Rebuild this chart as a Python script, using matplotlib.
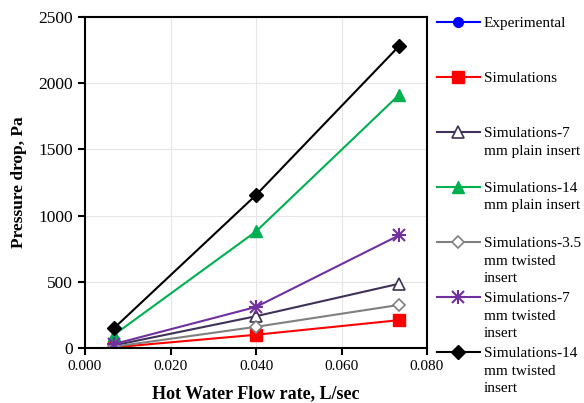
import numpy as np
import matplotlib
matplotlib.use("Agg")
import matplotlib.pyplot as plt
from matplotlib.lines import Line2D

plt.rcParams.update({"font.family": "Liberation Serif", "font.size": 11})

flow = [0.0068, 0.0400, 0.0734]
exp_flow = [0.0068]
exp_dp = [12]
sim = [5, 100, 210]
sim_7_plain = [20, 240, 485]
sim_14_plain = [100, 880, 1910]
sim_35_twist = [10, 160, 325]
sim_7_twist = [30, 310, 850]
sim_14_twist = [150, 1155, 2278]

labels = ["Experimental", "Simulations", "Simulations-7\nmm plain insert",
          "Simulations-14\nmm plain insert", "Simulations-3.5\nmm twisted\ninsert",
          "Simulations-7\nmm twisted\ninsert", "Simulations-14\nmm twisted\ninsert"]

W, H = 584, 403
fig = plt.figure(figsize=(W / 100, H / 100), dpi=100)
ax = fig.add_axes([85 / W, 1 - 348 / H, 342 / W, 331 / H])

series = [
    (exp_flow, exp_dp, dict(color="#0000ff", marker="o", ms=7)),
    (flow, sim, dict(color="#ff0000", marker="s", ms=8.5)),
    (flow, sim_7_plain, dict(color="#3f3158", marker="^", ms=8, mfc="white", mew=1.2)),
    (flow, sim_14_plain, dict(color="#00b050", marker="^", ms=8)),
    (flow, sim_35_twist, dict(color="#808080", marker="D", ms=6, mfc="white", mew=1.2)),
    (flow, sim_7_twist, dict(color="#7030a0", marker="x", ms=8, mew=1.5)),
    (flow, sim_14_twist, dict(color="#000000", marker="D", ms=7)),
]
for xs, ys, st in series:
    ax.plot(xs, ys, lw=1.5, **st)
# asterisk-like marker for 7 mm twisted: overlay a plus
ax.plot(flow, sim_7_twist, ls="none", marker="+", ms=10, mew=1.5, color="#7030a0")

ax.set_xlim(0, 0.08)
ax.set_ylim(0, 2500)
xt = np.arange(0, 0.081, 0.02)
ax.set_xticks(xt)
ax.set_xticklabels([f"{v:.3f}" for v in xt])
ax.set_yticks(range(0, 2501, 500))
ax.grid(color="#e6e6e6", lw=0.8)
ax.set_axisbelow(True)
for s in ax.spines.values():
    s.set_linewidth(1.5)
ax.tick_params(direction="out", length=5, width=1.5)
ax.tick_params(axis="x", labelsize=11)
ax.tick_params(axis="y", labelsize=12.5)
ax.set_xlabel("Hot Water Flow rate, L/sec", fontweight="bold", fontsize=13, labelpad=9)
ax.set_ylabel("Pressure drop, Pa", fontweight="bold", fontsize=12.5, labelpad=8)

# legend drawn by hand so each handle lines up with the first text line
LS = 1.43
line_px = 17.5
for i, ((xs, ys, st), lab) in enumerate(zip(series, labels)):
    yp = 22 + i * 55
    y = 1 - yp / H
    fig.add_artist(Line2D([437 / W, 480 / W], [y, y], lw=1.5, transform=fig.transFigure,
                          **{k: v for k, v in st.items() if k not in ("marker",)}))
    fig.add_artist(Line2D([458 / W], [y], ls="none", transform=fig.transFigure, **st))
    if i == 5:
        fig.add_artist(Line2D([458 / W], [y], ls="none", marker="+", ms=10, mew=1.5,
                              color="#7030a0", transform=fig.transFigure))
    nl = lab.count("\n")
    fig.text(484 / W, 1 - (yp + 5 + nl * line_px) / H, lab, fontsize=11,
             va="baseline", ha="left", linespacing=LS)

fig.savefig("out.png", dpi=100)
